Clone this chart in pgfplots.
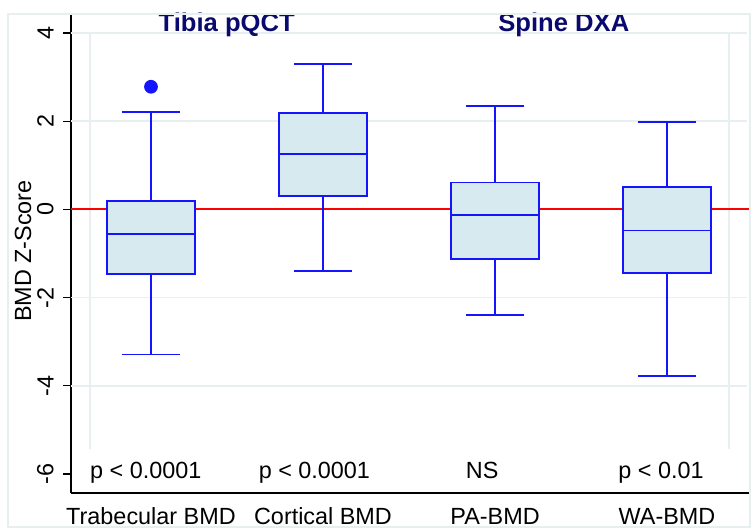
\documentclass[border=0pt]{standalone}
\usepackage{fontspec}
\setmainfont{Liberation Sans}
\usepackage{pgfplots}
\pgfplotsset{compat=1.18}
\usepgfplotslibrary{statistics}
\definecolor{boxfill}{RGB}{214,234,240}
\definecolor{boxedge}{RGB}{20,20,255}
\definecolor{gridc}{RGB}{232,239,241}
\definecolor{navy}{RGB}{10,10,110}
\definecolor{refred}{RGB}{255,0,0}
\begin{document}
\begin{tikzpicture}
\begin{axis}[
  scale only axis, width=340pt, height=239.5pt,
  xmin=-0.465, xmax=3.488, ymin=-6.43, ymax=4.43,
  clip=false,
  boxplot/draw direction=y,
  axis x line*=bottom, axis y line*=left,
  axis line style={black, line width=0.6pt},
  font=\fontsize{11.7}{14}\selectfont,
  /pgf/number format/assume math mode=true,
  xtick={0,1,2,3},
  xticklabels={Trabecular BMD, Cortical BMD, PA-BMD, WA-BMD},
  major x tick style={draw=none},
  xticklabel style={anchor=base, inner sep=0pt},
  xticklabel shift=12pt,
  ytick={-6,-4,-2,0,2,4},
  tick align=outside,
  major tick length=4pt,
  major y tick style={black, line width=0.6pt},
  yticklabel style={rotate=90, anchor=south, inner sep=0pt},
  yticklabel shift=4.5pt,
]
\coordinate (ll) at (rel axis cs:0,0);
\coordinate (ur) at (rel axis cs:1,1);
% grid / plot region decorations
\draw[gridc, line width=0.7pt] (axis cs:-0.465,4) -- (axis cs:3.465,4);
\draw[gridc, line width=0.7pt] (axis cs:-0.465,2) -- (axis cs:3.465,2);
\draw[gridc, line width=0.7pt] (axis cs:-0.465,-2) -- (axis cs:3.465,-2);
\draw[gridc, line width=0.7pt] (axis cs:-0.465,-4) -- (axis cs:3.465,-4);
\draw[gridc, line width=0.7pt] (axis cs:-0.355,4) -- (axis cs:-0.355,-5.44);
\draw[gridc, line width=0.7pt] (axis cs:3.36,4) -- (axis cs:3.36,-5.44);
% reference line
\addplot[color=refred, line width=0.9pt, mark=none, forget plot] coordinates {(-0.465,0) (3.488,0)};
% boxes
\addplot[boxplot prepared={draw position=0, median=-0.56, upper quartile=0.19, lower quartile=-1.47, upper whisker=2.21, lower whisker=-3.29, box extend=0.51, whisker extend=0.34},
  draw=boxedge, fill=boxfill, line width=0.85pt, solid, mark=*, mark size=3pt, mark options={fill=boxedge, draw=boxedge}]
  table[row sep=\\, y index=0] {data\\ 2.78\\};
\addplot[boxplot prepared={draw position=1, median=1.25, upper quartile=2.19, lower quartile=0.30, upper whisker=3.30, lower whisker=-1.40, box extend=0.51, whisker extend=0.34},
  draw=boxedge, fill=boxfill, line width=0.85pt, solid] coordinates {};
\addplot[boxplot prepared={draw position=2, median=-0.13, upper quartile=0.61, lower quartile=-1.12, upper whisker=2.35, lower whisker=-2.39, box extend=0.51, whisker extend=0.34},
  draw=boxedge, fill=boxfill, line width=0.85pt, solid] coordinates {};
\addplot[boxplot prepared={draw position=3, median=-0.48, upper quartile=0.50, lower quartile=-1.44, upper whisker=1.98, lower whisker=-3.78, box extend=0.51, whisker extend=0.34},
  draw=boxedge, fill=boxfill, line width=0.85pt, solid] coordinates {};
% group titles
\node[anchor=base, text=navy, font=\fontsize{12.8}{15}\selectfont\bfseries] at (axis cs:0.44,4.03) {Tibia pQCT};
\node[anchor=base, text=navy, font=\fontsize{12.8}{15}\selectfont\bfseries] at (axis cs:2.40,4.03) {Spine DXA};
% p-values
\node[anchor=base] at (axis cs:-0.03,-6.1) {p < 0.0001};
\node[anchor=base] at (axis cs:0.95,-6.1) {p < 0.0001};
\node[anchor=base] at (axis cs:1.925,-6.1) {NS};
\node[anchor=base] at (axis cs:2.965,-6.1) {p < 0.01};
% y label
\node[rotate=90, anchor=center] at ([xshift=-24pt]rel axis cs:0,0.505) {BMD Z-Score};
\end{axis}
\draw[gridc, line width=0.7pt] ([shift={(-31.5pt,-17pt)}]ll) rectangle ([shift={(-0.5pt,0pt)}]ur);
\pgfresetboundingbox
\path ([shift={(-35.5pt,-18pt)}]ll) rectangle ([shift={(0pt,7pt)}]ur);
\end{tikzpicture}
\end{document}
